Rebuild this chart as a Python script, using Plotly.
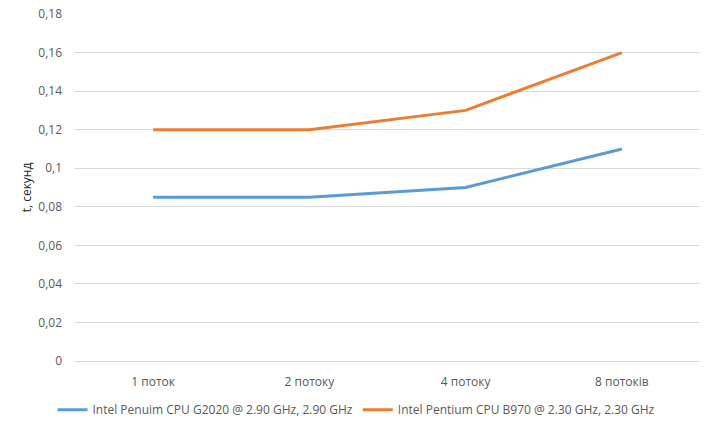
import plotly.graph_objects as go

categories = ["1 поток", "2 потоку", "4 потоку", "8 потоків"]
g2020 = [0.085, 0.085, 0.09, 0.11]
b970 = [0.12, 0.12, 0.13, 0.16]
series_names = ["Intel Penuim CPU G2020 @ 2.90 GHz, 2.90 GHz",
                "Intel Pentium CPU B970 @ 2.30 GHz, 2.30 GHz"]
y_ticks = [0, 0.02, 0.04, 0.06, 0.08, 0.1, 0.12, 0.14, 0.16, 0.18]
y_tick_labels = ["0", "0,02", "0,04", "0,06", "0,08", "0,1", "0,12", "0,14", "0,16", "0,18"]

font = "Open Sans, Liberation Sans, sans-serif"
fig = go.Figure()
fig.add_trace(go.Scatter(x=categories, y=g2020, mode="lines", name=series_names[0],
                         line=dict(color="#5b9bd5", width=3)))
fig.add_trace(go.Scatter(x=categories, y=b970, mode="lines", name=series_names[1],
                         line=dict(color="#ed7d31", width=3)))

fig.update_layout(
    width=713, height=426,
    margin=dict(l=75, r=13, t=14, b=65, autoexpand=False),
    paper_bgcolor="white", plot_bgcolor="white",
    font=dict(family=font, size=12, color="#595959"),
    showlegend=True,
    legend=dict(orientation="h", xref="container", yref="container",
                x=0.5, xanchor="center", y=0.038, yanchor="middle",
                font=dict(size=12, color="#595959"), itemwidth=30,
                traceorder="normal"),
    xaxis=dict(type="category", range=[-0.5, 3.5], showgrid=False, automargin=False,
               showline=True, linecolor="#d9d9d9", linewidth=1,
               ticks="", ticklabelstandoff=10, tickfont=dict(size=12, color="#595959")),
    yaxis=dict(range=[0, 0.18], tickvals=y_ticks, ticktext=y_tick_labels,
               showgrid=True, gridcolor="#d9d9d9", gridwidth=1, automargin=False,
               zeroline=False, showline=False, ticks="", ticklabelstandoff=12,
               tickfont=dict(size=12, color="#595959"),
               title=dict(text="t, секунд", font=dict(size=12, color="#262626"), standoff=4)),
)
fig.write_html("out.html")
